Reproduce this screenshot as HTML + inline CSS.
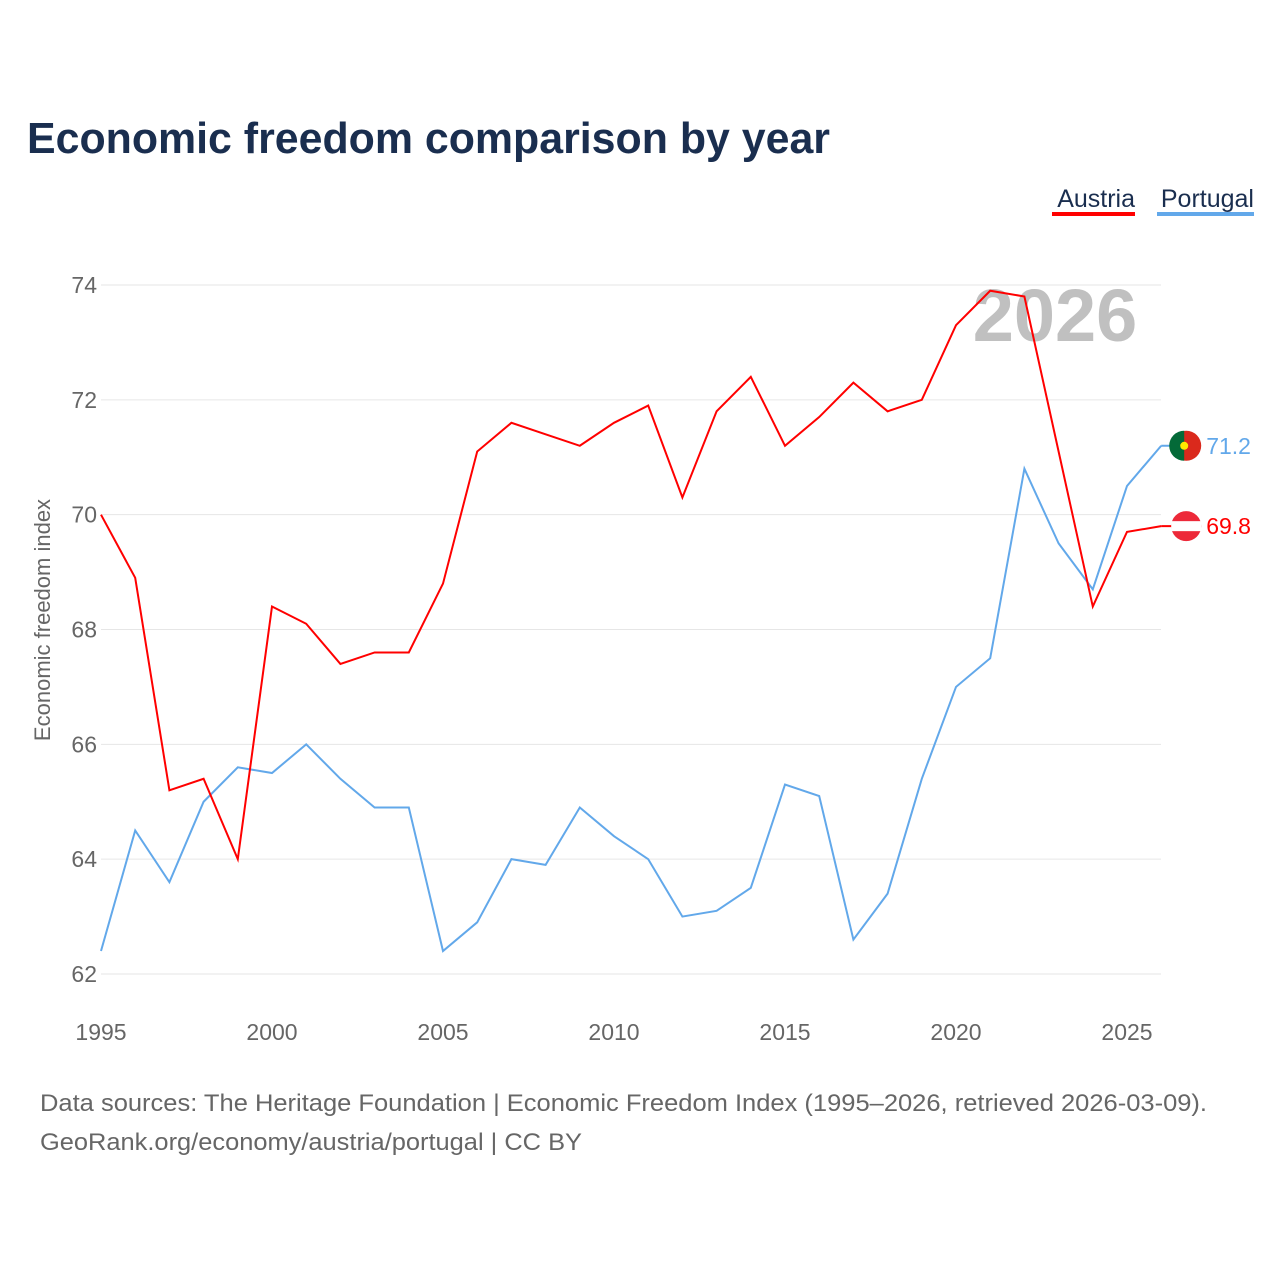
<!DOCTYPE html>
<html><head><meta charset="utf-8"><style>
body{margin:0;background:#fff;width:1280px;height:1280px;overflow:hidden;font-family:"Liberation Sans",sans-serif}
</style></head><body>
<svg width="1280" height="1280" id="svg">
<text x="27" y="153" font-size="44" font-weight="bold" fill="#1a2e4f" textLength="803" lengthAdjust="spacingAndGlyphs">Economic freedom comparison by year</text>
<g><text x="1135" y="207" font-size="25" fill="#1a2e4f" text-anchor="end">Austria</text><rect x="1052" y="212" width="83" height="4" fill="#ff0000"/></g>
<g><text x="1254" y="207" font-size="25" fill="#1a2e4f" text-anchor="end">Portugal</text><rect x="1157" y="212" width="97" height="4" fill="#62a8ea"/></g>
<text x="1055" y="341" font-size="74" font-weight="bold" fill="#c0c0c0" text-anchor="middle">2026</text>
<text transform="translate(50,620) rotate(-90)" font-size="22" fill="#666" text-anchor="middle">Economic freedom index</text>
<g id="grid"></g><g id="lines"></g>
<text x="40" y="1111" font-size="24" fill="#666" textLength="1167" lengthAdjust="spacingAndGlyphs">Data sources: The Heritage Foundation | Economic Freedom Index (1995–2026, retrieved 2026-03-09).</text>
<text x="40" y="1150" font-size="24" fill="#666" textLength="542" lengthAdjust="spacingAndGlyphs">GeoRank.org/economy/austria/portugal | CC BY</text>
</svg>
<script>
const years=[1995,1996,1997,1998,1999,2000,2001,2002,2003,2004,2005,2006,2007,2008,2009,2010,2011,2012,2013,2014,2015,2016,2017,2018,2019,2020,2021,2022,2023,2024,2025,2026];
const austria=[70.0,68.9,65.2,65.4,64.0,68.4,68.1,67.4,67.6,67.6,68.8,71.1,71.6,71.4,71.2,71.6,71.9,70.3,71.8,72.4,71.2,71.7,72.3,71.8,72.0,73.3,73.9,73.8,71.1,68.4,69.7,69.8];
const portugal=[62.4,64.5,63.6,65.0,65.6,65.5,66.0,65.4,64.9,64.9,62.4,62.9,64.0,63.9,64.9,64.4,64.0,63.0,63.1,63.5,65.3,65.1,62.6,63.4,65.4,67.0,67.5,70.8,69.5,68.7,70.5,71.2];
const yTicks=[62,64,66,68,70,72,74];
const xTicks=[1995,2000,2005,2010,2015,2020,2025];
const X=y=>101+(y-1995)*(1026/30);
const Y=v=>974-(v-62)*(689/12);
const NS="http://www.w3.org/2000/svg";
function mk(t,a,p){const e=document.createElementNS(NS,t);for(const k in a)e.setAttribute(k,a[k]);p.appendChild(e);return e;}
const grid=document.getElementById('grid'),lines=document.getElementById('lines');
yTicks.forEach(v=>{
 const l=mk('line',{x1:101,x2:1161,y1:Y(v),y2:Y(v),stroke:'#e6e6e6','stroke-width':1},grid);
 
 
 const t=mk('text',{x:97,y:Y(v)+8,'font-size':23,fill:'#666','text-anchor':'end'},grid);t.textContent=v;
 
 
});
xTicks.forEach(v=>{
 const t=mk('text',{x:X(v),y:1040,'font-size':23,fill:'#666','text-anchor':'middle'},grid);t.textContent=v;
 
 
});
function series(vals,color,name){
 const p=mk('polyline',{points:vals.map((v,i)=>X(years[i])+','+Y(v)).join(' '),fill:'none',stroke:color,'stroke-width':2},lines);
 
 
 const last=vals[vals.length-1],lx=X(years[years.length-1])+25,ly=Y(last);
 mk('line',{x1:X(2026),x2:lx,y1:ly,y2:ly,stroke:color,'stroke-width':2},lines);
 const c=mk('circle',{cx:lx,cy:ly,r:15,fill:name==='austria'?'#ed2939':'#da291c'},lines);
 
 
 if(name==='austria'){mk('rect',{x:lx-15,y:ly-5,width:30,height:10,fill:'#fff'},lines);}
 else{mk('path',{d:`M${lx-2},${ly-15} A15,15 0 0,0 ${lx-2},${ly+15} Z`,fill:'#046a38'},lines);mk('circle',{cx:lx-2,cy:ly,r:4,fill:'#ffe900'},lines);}
 const t=mk('text',{x:lx+20,y:ly+8,'font-size':23,fill:color},lines);t.textContent=last.toFixed(1);
 
 
}
series(portugal,'#62a8ea','portugal');
series(austria,'#ff0000','austria');
</script>
</body></html>
